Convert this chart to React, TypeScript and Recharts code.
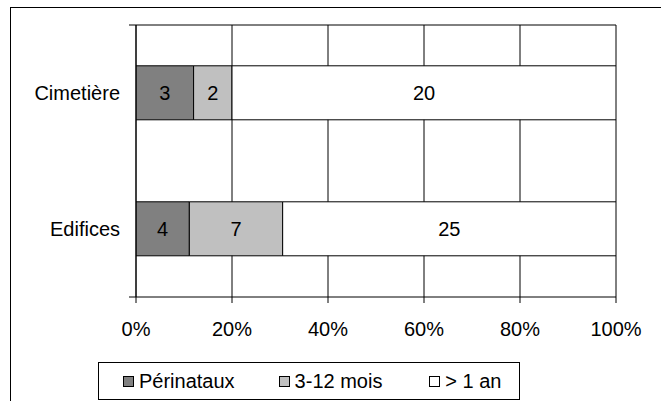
import { BarChart, Bar, XAxis, YAxis, CartesianGrid, LabelList, Legend } from "recharts";

const categories = ["Cimetière", "Edifices"];
const perinataux = [3, 4];
const troisDouzeMois = [2, 7];
const plusUnAn = [20, 25];
const percentTicks = [0, 0.2, 0.4, 0.6, 0.8, 1];
const bandEdges = [0, 1, 2];

const series = [
  { key: "perinataux", name: "Périnataux", color: "#808080" },
  { key: "mois", name: "3-12 mois", color: "#C0C0C0" },
  { key: "an", name: "> 1 an", color: "#FFFFFF" },
];

const data = categories.map((name, i) => ({
  name,
  perinataux: perinataux[i],
  mois: troisDouzeMois[i],
  an: plusUnAn[i],
}));

const FONT = "'Liberation Sans', Arial, sans-serif";
const slotWidths = [156, 151, 90];

function LegendBox() {
  return (
    <div
      style={{
        boxSizing: "border-box",
        width: 422,
        height: 38,
        border: "1px solid #000",
        background: "#fff",
        display: "flex",
        alignItems: "center",
        paddingLeft: 24,
        fontFamily: FONT,
        fontSize: 20,
        color: "#000",
      }}
    >
      {series.map((s, i) => (
        <div key={s.key} style={{ display: "flex", alignItems: "center", width: slotWidths[i] }}>
          <span
            style={{
              display: "inline-block",
              boxSizing: "border-box",
              width: 11,
              height: 11,
              border: "1px solid #000",
              background: s.color,
              marginRight: 5,
            }}
          />
          <span>{s.name}</span>
        </div>
      ))}
    </div>
  );
}

export default function App() {
  return (
    <div style={{ position: "fixed", left: 0, top: 0, width: 661, height: 401, overflow: "hidden", background: "#fff" }}>
      <div
        style={{
          position: "absolute",
          left: 10,
          top: 7,
          width: 700,
          height: 450,
          borderTop: "1px solid #000",
          borderLeft: "1px solid #000",
        }}
      />
      <div style={{ position: "absolute", left: 0, top: 0 }}>
        <BarChart
          width={661}
          height={401}
          data={data}
          layout="vertical"
          stackOffset="expand"
          barCategoryGap="30%"
          margin={{ top: 24, right: 45, bottom: 64, left: 0 }}
        >
          <CartesianGrid horizontal={false} stroke="#000" yAxisId="a_frame" />
          <XAxis
            type="number"
            domain={[0, 1]}
            ticks={percentTicks}
            allowDataOverflow
            tickFormatter={(v) => `${Math.round(v * 100)}%`}
            height={40}
            tickSize={6}
            tickMargin={19}
            stroke="#000"
            tick={{ fill: "#000", fontSize: 20, fontFamily: FONT }}
          />
          <XAxis
            xAxisId="top"
            orientation="top"
            type="number"
            domain={[0, 1]}
            ticks={percentTicks}
            allowDataOverflow
            height={1}
            tickFormatter={() => ""}
            tickLine={false}
            axisLine={{ stroke: "#000" }}
          />
          <YAxis
            yAxisId="a_frame"
            type="number"
            domain={[0, 2]}
            ticks={bandEdges}
            allowDataOverflow
            width={1}
            tickFormatter={() => ""}
            tickSize={7}
            axisLine={{ stroke: "#000" }}
            tickLine={{ stroke: "#000" }}
          />
          <YAxis
            yAxisId="b_cat"
            type="category"
            dataKey="name"
            width={135}
            axisLine={false}
            tickLine={false}
            tickSize={0}
            tickMargin={15}
            tick={{ fill: "#000", fontSize: 20, fontFamily: FONT }}
          />
          {series.map((s) => (
            <Bar
              key={s.key}
              dataKey={s.key}
              name={s.name}
              stackId="a"
              yAxisId="b_cat"
              fill={s.color}
              stroke="#000"
              strokeWidth={1}
              isAnimationActive={false}
            >
              <LabelList dataKey={s.key} position="center" fill="#000" fontSize={20} fontFamily={FONT} />
            </Bar>
          ))}
          <Legend
            layout="horizontal"
            verticalAlign="middle"
            align="center"
            content={() => <LegendBox />}
            wrapperStyle={{ left: 98, top: 362, width: 422, height: 38 }}
          />
        </BarChart>
      </div>
    </div>
  );
}
